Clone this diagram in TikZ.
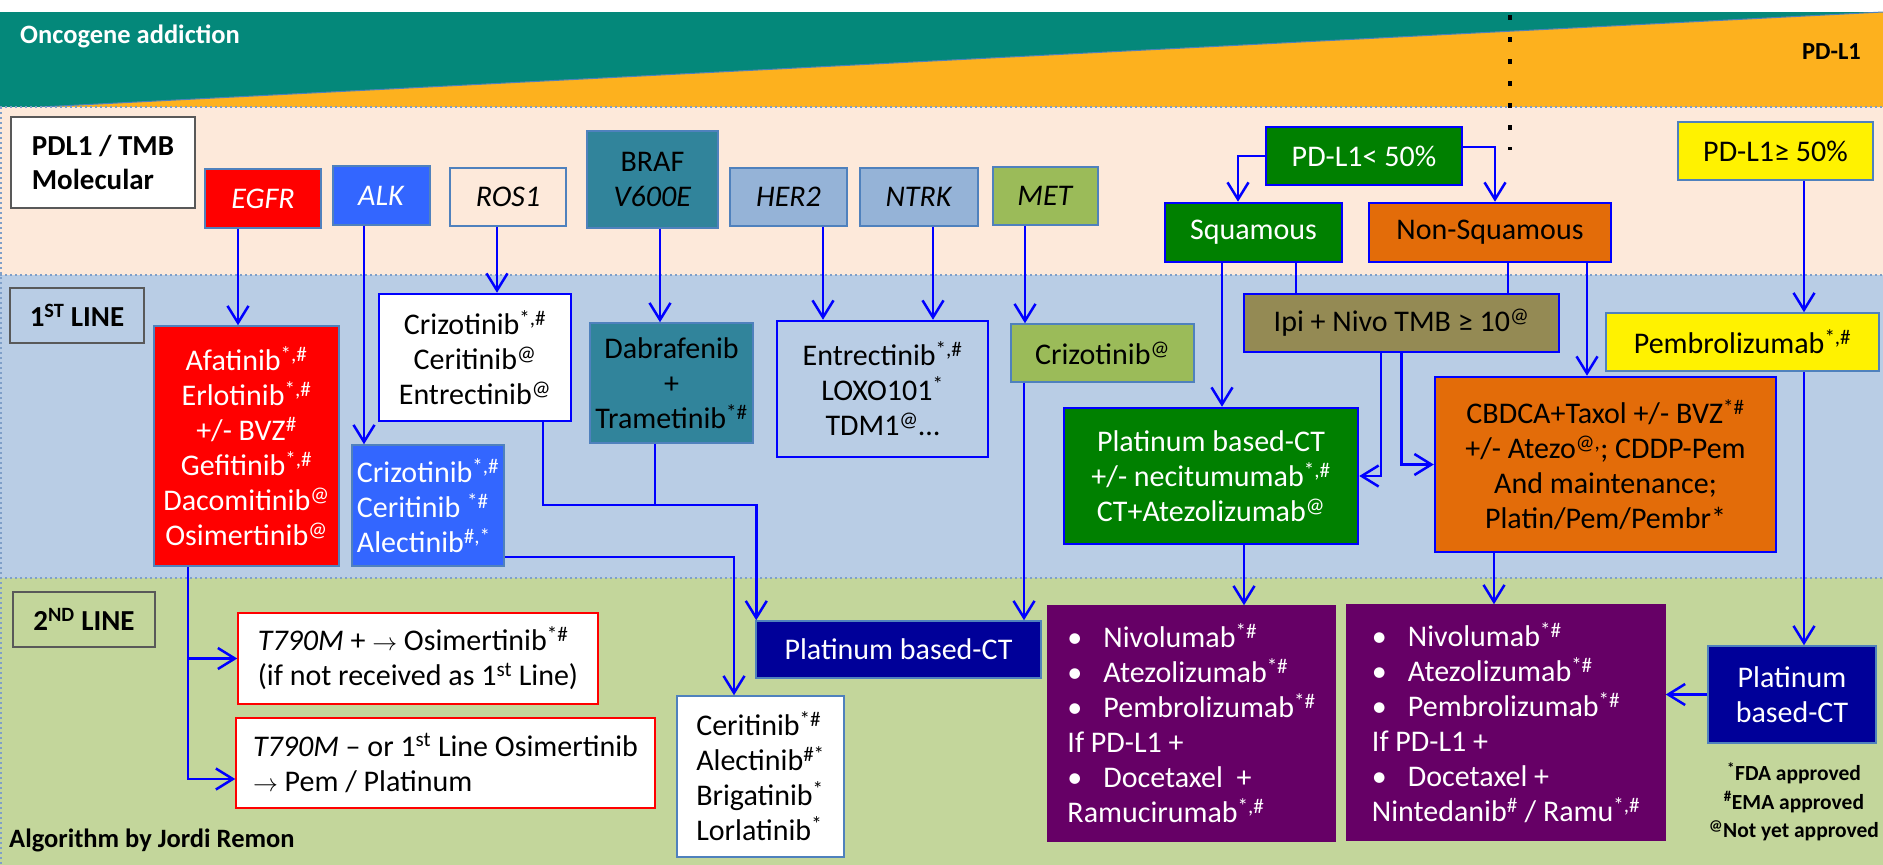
\documentclass[tikz,border=0pt]{standalone}
\usepackage{fontspec}
\setmainfont{Carlito}
\usetikzlibrary{arrows.meta}
\newcommand{\thenarrow}{$\rightarrow$}
\definecolor{oncoteal}{HTML}{04887A}
\definecolor{pdlorange}{HTML}{FDB11E}
\definecolor{molband}{HTML}{FDE9DA}
\definecolor{firstband}{HTML}{B9CDE5}
\definecolor{secondband}{HTML}{C3D69B}
\definecolor{bandline}{HTML}{7F9FC8}
\definecolor{edgeblue}{HTML}{4F81BD}
\definecolor{linkblue}{HTML}{0000FF}
\definecolor{egfrred}{HTML}{FF0000}
\definecolor{alkblue}{HTML}{3366FF}
\definecolor{brafteal}{HTML}{31849B}
\definecolor{herblue}{HTML}{95B3D7}
\definecolor{metgreen}{HTML}{9BBB59}
\definecolor{sqgreen}{HTML}{008000}
\definecolor{nsqorange}{HTML}{E36C09}
\definecolor{ipiolive}{HTML}{948A54}
\definecolor{platnavy}{HTML}{000099}
\definecolor{ioplum}{HTML}{660066}
\definecolor{labelgray}{HTML}{595959}
\begin{document}
\begin{tikzpicture}[x=1pt,y=-1pt,
  txt/.style={font=\fontsize{30}{35}\selectfont},
  wh/.style 2 args={minimum width=#1pt,minimum height=#2pt},
  cell/.style={txt,draw=edgeblue,line width=1.5pt,inner sep=0pt,align=center},
  bluecell/.style={txt,draw=linkblue,line width=2.5pt,inner sep=0pt,align=center},
  tag/.style={draw=labelgray,line width=2.5pt,inner sep=0pt,font=\fontsize{29}{34}\selectfont\bfseries},
  link/.style={linkblue,line width=2.5pt},
  arr/.style={link,-{Straight Barb[length=17pt,width=21pt]}}]
\useasboundingbox (0,0) rectangle (1883,865);
\fill[white] (0,0) rectangle (1883,865);
\fill[oncoteal] (0,12) rectangle (1883,107);
\fill[pdlorange] (40,107) -- (1883,12) -- (1883,107) -- cycle;
\draw[edgeblue,line width=1pt] (40,107) -- (1883,12);
\fill[molband] (0,107) rectangle (1883,275);
\fill[firstband] (0,275) rectangle (1883,578);
\fill[secondband] (0,578) rectangle (1883,865);
\foreach \y in {107,275,578}
  \draw[bandline,line width=1.5pt,dash pattern=on 2pt off 3pt] (0,\y) -- (1883,\y);
\draw[bandline,line width=1.5pt,dash pattern=on 2pt off 3pt] (1,107) -- (1,865);
\draw[line width=4pt,dash pattern=on 5pt off 17pt] (1510,15) -- (1510,150);

\node[anchor=west,inner sep=0pt,white,font=\fontsize{26.5}{30}\selectfont\bfseries] (onco) at (20,36) {Oncogene addiction};
\node[anchor=east,inner sep=0pt,font=\fontsize{24.5}{28}\selectfont\bfseries] (pdl) at (1861,52) {PD-L1};

\node[tag,fill=white,align=left,wh={184}{91}] (moltag) at (103,162.5) {PDL1 / TMB\\Molecular};
\node[tag,wh={134}{55}] (firsttag) at (77,315.5) {1\textsuperscript{ST} LINE};
\node[tag,wh={142}{55}] (secondtag) at (84,619.5) {2\textsuperscript{ND} LINE};
\node[anchor=west,inner sep=0pt,font=\fontsize{26.5}{30}\selectfont\bfseries] (credit) at (9,840) {Algorithm by Jordi Remon};

\node[cell,fill=egfrred,text=white,wh={116}{59}] (egfr) at (263,198.5) {\textit{EGFR}};
\node[cell,fill=alkblue,text=white,wh={97}{59}] (alk) at (381.5,195.5) {\textit{ALK}};
\node[cell,fill=molband,wh={116}{58}] (ros) at (508,197) {\textit{ROS1}};
\node[cell,fill=brafteal,wh={131}{97}] (braf) at (652.5,179.5) {BRAF\\\textit{V600E}};
\node[cell,fill=herblue,wh={117}{58}] (her) at (788.5,197) {\textit{HER2}};
\node[cell,fill=herblue,wh={118}{58}] (ntrk) at (919,197) {\textit{NTRK}};
\node[cell,fill=metgreen,wh={105}{58}] (met) at (1045.5,196) {\textit{MET}};

\node[bluecell,fill=sqgreen,text=white,wh={196}{58}] (pdlow) at (1364,156) {PD-L1< 50\%};
\node[bluecell,fill=sqgreen,text=white,wh={177}{59}] (squam) at (1253.5,232.5) {Squamous};
\node[bluecell,fill=nsqorange,wh={242}{59}] (nonsq) at (1490,232.5) {Non-Squamous};
\node[cell,fill=yellow,wh={195}{58}] (pdhigh) at (1775.5,151) {PD-L1≥ 50\%};

\node[cell,fill=egfrred,text=white,wh={185}{240}] (egfrtx) at (246.5,446) {Afatinib\textsuperscript{*,\#}\\Erlotinib\textsuperscript{*,\#}\\+/- BVZ\textsuperscript{\#}\\Gefitinib\textsuperscript{*,\#}\\Dacomitinib\textsuperscript{@}\\Osimertinib\textsuperscript{@}};
\node[cell,fill=alkblue,text=white,align=left,wh={152}{121}] (alktx) at (428,505.5) {Crizotinib\textsuperscript{*,\#}\\Ceritinib \textsuperscript{*\#}\\Alectinib\textsuperscript{\#,*}};
\node[bluecell,fill=white,wh={192}{127}] (rostx) at (475,357.5) {Crizotinib\textsuperscript{*,\#}\\Ceritinib\textsuperscript{@}\\Entrectinib\textsuperscript{@}};
\node[cell,fill=brafteal,wh={163}{120}] (braftx) at (671.5,383) {Dabrafenib\\+\\Trametinib\textsuperscript{*\#}};
\node[bluecell,wh={211}{136}] (ntrktx) at (882.5,389) {Entrectinib\textsuperscript{*,\#}\\LOXO101\textsuperscript{*}\\TDM1\textsuperscript{@}…};
\node[cell,fill=metgreen,wh={183}{58}] (mettx) at (1102.5,353) {Crizotinib\textsuperscript{@}};
\node[bluecell,fill=ipiolive,wh={315}{58}] (ipi) at (1401.5,323) {Ipi + Nivo TMB ≥ 10\textsuperscript{@}};
\node[cell,fill=yellow,wh={273}{58}] (pembro) at (1742.5,342) {Pembrolizumab\textsuperscript{*,\#}};
\node[bluecell,fill=sqgreen,text=white,wh={294}{136}] (sqtx) at (1211,476) {Platinum based-CT\\+/- necitumumab\textsuperscript{*,\#}\\CT+Atezolizumab\textsuperscript{@}};
\node[bluecell,fill=nsqorange,wh={341}{175}] (nsqtx) at (1605.5,464.5) {CBDCA+Taxol +/- BVZ\textsuperscript{*\#}\\+/- Atezo\textsuperscript{@,}; CDDP-Pem\\And maintenance;\\Platin/Pem/Pembr*};

\node[cell,draw=egfrred,fill=white,align=left,wh={360}{91}] (tpos) at (418,658.5) {\textit{T790M} + \thenarrow{} Osimertinib\textsuperscript{*\#}\\(if not received as 1\textsuperscript{st} Line)};
\node[cell,draw=egfrred,fill=white,align=left,wh={419}{90}] (tneg) at (445.5,763) {\textit{T790M} – or 1\textsuperscript{st} Line Osimertinib\\\thenarrow{} Pem / Platinum};
\node[cell,fill=white,align=left,wh={167}{161}] (alk2) at (760.5,776.5) {Ceritinib\textsuperscript{*\#}\\Alectinib\textsuperscript{\#*}\\Brigatinib\textsuperscript{*}\\Lorlatinib\textsuperscript{*}};
\node[cell,fill=platnavy,text=white,wh={285}{57}] (plat) at (898.5,649.5) {Platinum based-CT};
\node[cell,draw=ioplum,fill=ioplum,text=white,align=left,wh={287}{235}] (iosq) at (1191.5,723.5) {\makebox[36pt][l]{\textbullet}Nivolumab\textsuperscript{*\#}\\\makebox[36pt][l]{\textbullet}Atezolizumab\textsuperscript{*\#}\\\makebox[36pt][l]{\textbullet}Pembrolizumab\textsuperscript{*\#}\\If PD-L1 +\\\makebox[36pt][l]{\textbullet}Docetaxel \ +\\Ramucirumab\textsuperscript{*,\#}};
\node[cell,draw=ioplum,fill=ioplum,text=white,align=left,wh={318}{235}] (ionsq) at (1506,722.5) {\makebox[36pt][l]{\textbullet}Nivolumab\textsuperscript{*\#}\\\makebox[36pt][l]{\textbullet}Atezolizumab\textsuperscript{*\#}\\\makebox[36pt][l]{\textbullet}Pembrolizumab\textsuperscript{*\#}\\If PD-L1 +\\\makebox[36pt][l]{\textbullet}Docetaxel +\\Nintedanib\textsuperscript{\#} / Ramu\textsuperscript{*,\#}};
\node[cell,fill=platnavy,text=white,wh={168}{97}] (plat2) at (1792,694.5) {Platinum\\based-CT};
\node[align=center,inner sep=0pt,font=\fontsize{21.5}{28.5}\selectfont\bfseries] (legend) at (1794,802) {\textsuperscript{*}FDA approved\\\textsuperscript{\#}EMA approved\\\textsuperscript{@}Not yet approved};

\draw[arr] ([xshift=-25pt]egfr.south) -- ([xshift=-25pt]egfr.south |- egfrtx.north);
\draw[arr] ([xshift=-17.5pt]alk.south) -- ([xshift=-17.5pt]alk.south |- alktx.north);
\draw[arr] ([xshift=-11pt]ros.south) -- ([xshift=-11pt]ros.south |- rostx.north);
\draw[arr] ([xshift=7.5pt]braf.south) -- ([xshift=7.5pt]braf.south |- braftx.north);
\draw[arr] ([xshift=34.5pt]her.south) -- ([xshift=34.5pt]her.south |- ntrktx.north);
\draw[arr] ([xshift=14pt]ntrk.south) -- ([xshift=14pt]ntrk.south |- ntrktx.north);
\draw[arr] ([xshift=-20.5pt]met.south) -- ([xshift=-20.5pt]met.south |- mettx.north);
\draw[arr] (pdlow.west) -| ([xshift=-15.5pt]squam.north);
\draw[arr] ([yshift=9pt]pdlow.east) -| ([xshift=5pt]nonsq.north);
\draw[arr] ([xshift=28.5pt]pdhigh.south) -- ([xshift=28.5pt]pdhigh.south |- pembro.north);
\draw[arr] ([xshift=11pt]sqtx.north |- squam.south) -- ([xshift=11pt]sqtx.north);
\draw[link] ([xshift=42.5pt]squam.south) -- ([xshift=42.5pt]squam.south |- ipi.north);
\draw[link] ([xshift=18pt]nonsq.south) -- ([xshift=18pt]nonsq.south |- ipi.north);
\draw[arr] ([xshift=97pt]nonsq.south) -- ([xshift=97pt]nonsq.south |- nsqtx.north);
\draw[arr] ([xshift=-20.5pt]ipi.south) |- (sqtx.east);
\draw[arr] (ipi.south) |- (nsqtx.west);
\draw[arr] ([xshift=33pt]sqtx.south) -- ([xshift=33pt]sqtx.south |- iosq.north);
\draw[arr] ([xshift=-12pt]ionsq.north |- nsqtx.south) -- ([xshift=-12pt]ionsq.north);
\draw[arr] ([xshift=12pt]plat2.north |- pembro.south) -- ([xshift=12pt]plat2.north);
\draw[arr] (plat2.west) -- (plat2.west -| ionsq.east);
\draw[arr] ([xshift=-78.5pt]mettx.south) -- ([xshift=-78.5pt]mettx.south |- plat.north);
\coordinate (brafjoin) at (655,505);
\draw[link] (braftx.south -| brafjoin) -- (brafjoin);
\draw[arr] ([xshift=68pt]rostx.south) |- (brafjoin) -| ([xshift=1pt]plat.north west);
\draw[arr] ([yshift=-51.5pt]alktx.east) -| ([xshift=-26.5pt]alk2.north);
\draw[arr] ([xshift=-58.5pt]egfrtx.south) |- ([yshift=-16pt]tneg.west);
\draw[arr] ([xshift=-58.5pt]egfrtx.south |- tpos.west) -- (tpos.west);
\end{tikzpicture}
\end{document}
